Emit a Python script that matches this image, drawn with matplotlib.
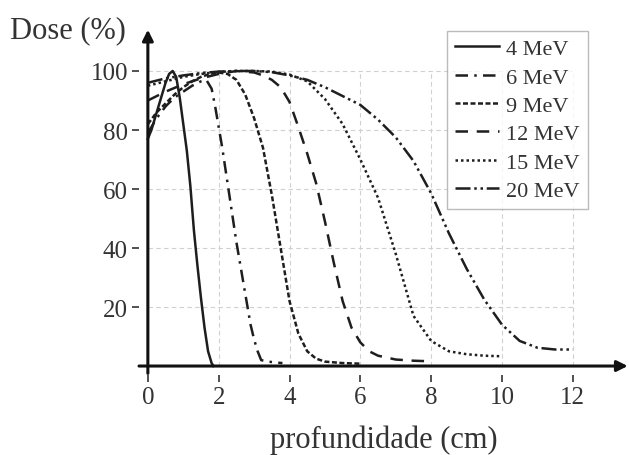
import numpy as np
import matplotlib
matplotlib.use('Agg')
import matplotlib.pyplot as plt

plt.rcParams['font.family'] = ['Liberation Serif', 'DejaVu Serif']

# depth (cm) / dose (%)
x4 = [0, 0.1, 0.2, 0.3, 0.4, 0.5, 0.6, 0.7, 0.8, 0.9, 1.0, 1.1, 1.2, 1.3, 1.4, 1.5, 1.6, 1.7, 1.8, 1.85]
y4 = [77, 80, 84, 88, 92, 96, 99, 100, 98, 91, 82, 73, 61, 46, 34, 23, 13, 5, 1, 0]

x6 = [0, 0.25, 0.5, 0.75, 1.0, 1.25, 1.5, 1.65, 1.8, 1.9, 2.0, 2.1, 2.2, 2.3, 2.4, 2.5, 2.6, 2.7, 2.8, 2.9, 3.0, 3.1, 3.2, 3.4, 3.6, 3.8]
y6 = [79, 84, 88, 91, 93, 95, 96.5, 97, 94, 88, 81, 74, 66, 58, 50, 42, 35, 28, 21, 14, 9, 5, 2, 1.5, 1.2, 1]

x9 = [0, 0.25, 0.5, 0.75, 1.0, 1.25, 1.5, 1.75, 2.0, 2.25, 2.5, 2.75, 3.0, 3.25, 3.5, 3.75, 4.0, 4.25, 4.5, 4.75, 5.0, 5.5, 6.0]
y9 = [82, 86, 89, 92, 94.5, 96.5, 98, 99, 99.5, 99, 97, 92, 84, 74, 58, 40, 22, 11, 5, 2.5, 1.5, 1, 0.8]

x12 = [0, 0.5, 1.0, 1.5, 2.0, 2.5, 3.0, 3.25, 3.5, 3.75, 4.0, 4.25, 4.5, 4.75, 5.0, 5.25, 5.5, 5.75, 6.0, 6.25, 6.5, 7.0, 7.5, 8.0]
y12 = [90, 93, 95.5, 97.5, 99, 100, 99.5, 98.5, 97, 94.5, 89.5, 81, 72, 62, 49, 35, 22, 13, 8, 5, 3.5, 2.2, 1.8, 1.6]

x15 = [0, 0.5, 1.0, 1.5, 2.0, 2.5, 3.0, 3.5, 4.0, 4.5, 5.0, 5.5, 6.0, 6.5, 7.0, 7.5, 8.0, 8.5, 9.0, 9.5, 10.0]
y15 = [95, 96.5, 98, 99, 99.7, 100, 100, 99.8, 98.8, 96.5, 90.5, 82, 70, 57, 38, 17, 8.5, 5, 4, 3.5, 3.3]

x20 = [0, 0.5, 1.0, 1.5, 2.0, 2.5, 3.0, 3.5, 4.0, 4.5, 5.0, 5.5, 6.0, 6.5, 7.0, 7.5, 8.0, 8.5, 9.0, 9.5, 10.0, 10.5, 11.0, 11.5, 12.0]
y20 = [96, 97.5, 98.5, 99.3, 99.8, 100, 100, 99.6, 98.5, 97, 94.5, 91.5, 88.5, 83.5, 77.5, 69.5, 58.5, 45, 33, 22.5, 14, 8.5, 6.2, 5.6, 5.6]

labels = ['4 MeV', '6 MeV', '9 MeV', '12 MeV', '15 MeV', '20 MeV']
xticks = [0, 2, 4, 6, 8, 10, 12]
yticks = [20, 40, 60, 80, 100]

styles = ['-', (0, (5, 2.5, 1, 2.5)), (0, (2, 1)), (0, (5, 3.5)), (0, (1, 1.2)), (0, (6, 1.5, 1, 1.5, 1, 1.5))]
ink = '#1e1e1e'

fig = plt.figure(figsize=(6.29, 4.56), dpi=100)
ax = fig.add_axes([0.221, 0.1757, 0.777, 0.757])
ax.set_xlim(-0.25, 13.55)
ax.set_ylim(-3, 114)

# grid box only over [0,12] x [0,100]
ax.hlines(yticks, 0, 12, colors='#d0d0d0', linestyles=(0, (4, 3)), lw=0.8, zorder=0)
ax.vlines(xticks[1:], 0, 100, colors='#d0d0d0', linestyles=(0, (4, 3)), lw=0.8, zorder=0)

data = [(x4, y4), (x6, y6), (x9, y9), (x12, y12), (x15, y15), (x20, y20)]
for (xs, ys), ls, lab in zip(data, styles, labels):
    ax.plot(xs, ys, color=ink, lw=1.8, linestyle=ls, label=lab)

for s in ax.spines.values():
    s.set_visible(False)

ax.annotate('', xy=(13.55, 0), xytext=(-0.25, 0),
            arrowprops=dict(arrowstyle='-|>', lw=2.2, color='#111111', mutation_scale=16, shrinkA=0, shrinkB=0),
            annotation_clip=False)
ax.annotate('', xy=(0, 114), xytext=(0, -2.5),
            arrowprops=dict(arrowstyle='-|>', lw=2.2, color='#111111', mutation_scale=16, shrinkA=0, shrinkB=0),
            annotation_clip=False)

ax.set_xticks(xticks)
ax.set_yticks(yticks)
ax.tick_params(direction='out', length=5, width=1.2, color='#333333', labelsize=18, labelcolor='#333333', pad=3)

ax.set_xlabel('profundidade (cm)', fontsize=22, color='#333333', labelpad=12)
fig.text(0.016, 0.932, 'Dose (%)', fontsize=22, color='#333333', va='center', ha='left')

leg = ax.legend(loc='upper left', bbox_to_anchor=(0.711, 0.930), bbox_transform=fig.transFigure,
                fontsize=16, frameon=True, fancybox=False, edgecolor='#aaaaaa',
                handlelength=2.0, handletextpad=0.3, borderpad=0.35, labelspacing=0.35,
                borderaxespad=0)
leg.get_frame().set_linewidth(1.0)
for t in leg.get_texts():
    t.set_color('#333333')

fig.savefig('out.png', dpi=100)
